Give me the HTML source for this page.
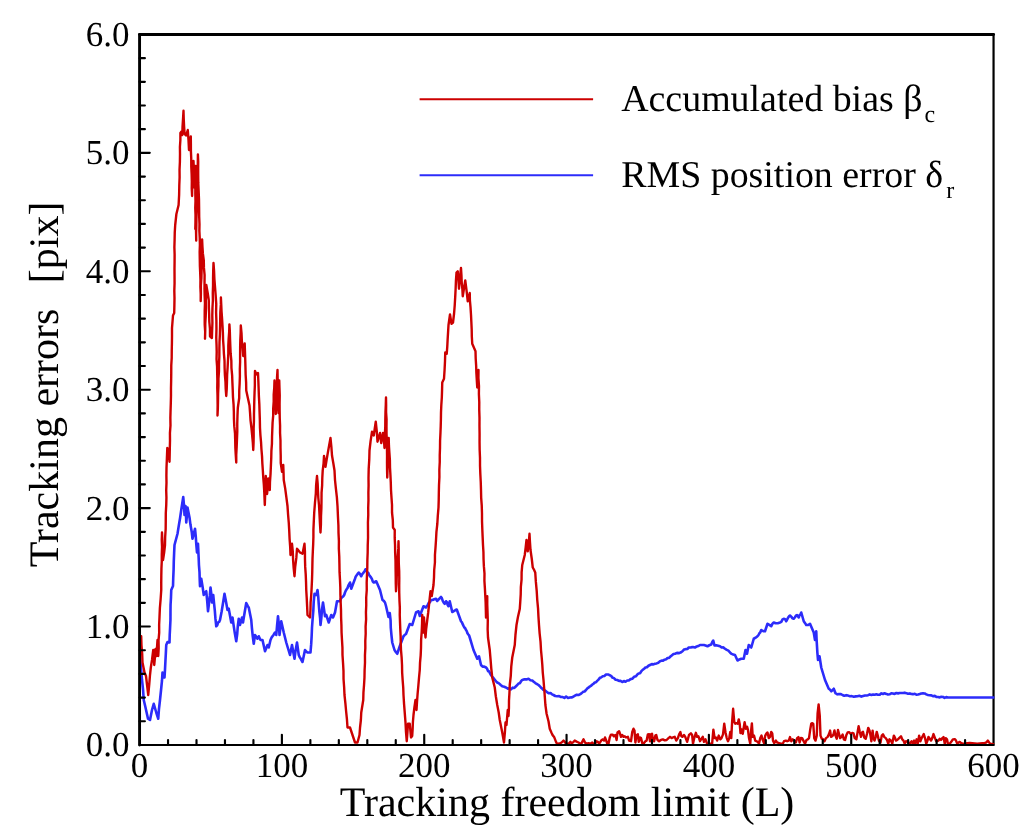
<!DOCTYPE html>
<html><head><meta charset="utf-8"><title>Tracking errors</title>
<style>
html,body{margin:0;padding:0;background:#fff;}
svg{display:block;font-family:"Liberation Serif","DejaVu Serif",serif;fill:#000;text-rendering:geometricPrecision;}
</style></head>
<body>
<svg width="1024" height="833" viewBox="0 0 1024 833">
<rect x="0" y="0" width="1024" height="833" fill="#ffffff"/>
<defs><clipPath id="pc"><rect x="141" y="33" width="853.6" height="710.9"/></clipPath></defs>
<g stroke="#000" stroke-linecap="round">
<line x1="139.57" y1="34.45" x2="139.57" y2="744.95" stroke-width="2.9"/>
<line x1="139.57" y1="34.45" x2="993.55" y2="34.45" stroke-width="2.9"/>
<line x1="993.55" y1="34.45" x2="993.55" y2="744.95" stroke-width="2.2"/>
<line x1="139.57" y1="744.95" x2="993.55" y2="744.95" stroke-width="2.1"/>
</g>
<g clip-path="url(#pc)" fill="none" stroke-linejoin="round" stroke-linecap="round">
<polyline stroke="#2c2cfa" stroke-width="2.6" points="139.70,655.00 141.00,668.00 142.00,680.00 143.08,690.00 143.75,700.00 145.50,707.50 148.00,718.75 150.00,720.00 152.00,710.00 153.75,703.75 156.25,712.50 158.25,718.75 158.93,709.38 160.00,700.00 161.25,688.00 162.02,680.25 162.50,672.50 164.50,677.50 165.01,669.38 165.42,661.25 165.85,653.12 166.25,645.00 167.50,642.00 169.50,642.50 169.72,635.00 170.10,627.50 170.45,620.00 170.48,612.50 170.55,605.00 170.98,597.50 171.25,590.00 173.00,586.00 173.25,577.80 173.61,569.60 173.78,561.40 174.12,553.20 174.50,545.00 177.50,533.75 178.75,525.83 180.08,517.92 181.25,510.00 183.25,497.00 184.05,506.00 184.50,515.00 185.50,506.00 185.98,514.25 186.25,522.50 186.99,515.00 187.50,507.50 189.50,517.50 190.44,524.58 191.70,531.67 192.50,538.75 195.00,528.75 195.78,536.67 196.32,544.58 197.00,552.50 198.00,543.75 198.33,550.83 198.67,557.92 198.94,565.00 199.51,572.08 199.70,579.17 200.00,586.25 201.25,578.75 202.60,586.88 203.75,595.00 204.92,592.84 206.25,591.25 207.21,601.25 208.00,611.25 209.01,603.33 209.85,595.42 210.50,587.50 211.45,595.00 212.00,602.50 213.25,595.00 214.00,602.81 214.82,610.62 215.42,618.44 216.25,626.25 217.19,625.38 218.16,622.45 219.16,621.92 220.00,620.00 221.68,611.25 223.11,602.50 224.50,593.75 226.07,601.88 227.50,610.00 228.75,608.75 231.25,622.50 232.50,617.50 233.63,625.42 234.83,633.33 236.25,641.25 237.24,633.75 237.79,626.25 238.75,618.75 240.00,625.00 242.00,617.50 243.00,622.50 244.59,612.75 246.25,603.00 246.94,604.28 247.82,606.28 248.75,607.50 251.25,620.00 251.90,627.92 252.71,635.83 253.75,643.75 255.00,635.00 256.11,636.48 257.50,638.75 258.75,636.25 260.50,640.00 262.50,640.00 265.00,651.25 267.50,645.00 268.75,647.50 270.50,640.00 271.59,637.58 272.50,636.25 273.66,634.68 275.00,632.50 276.25,635.00 277.07,625.62 278.00,616.25 278.97,625.62 279.50,635.00 281.25,621.25 283.75,632.50 286.25,642.50 290.00,655.00 292.00,645.00 294.50,658.75 295.55,650.62 297.00,642.50 298.75,655.00 299.72,657.14 300.51,658.24 301.42,660.17 302.50,662.00 305.00,650.00 306.33,651.63 307.50,652.50 310.50,652.50 311.18,644.17 311.66,635.83 312.00,627.50 312.61,619.06 313.32,610.62 313.70,602.19 314.50,593.75 316.25,595.00 317.50,590.00 318.26,597.00 318.74,604.00 319.31,611.00 320.10,618.00 320.50,625.00 321.38,617.50 321.95,610.00 323.00,602.50 325.00,616.25 326.25,615.00 328.75,622.50 331.25,615.00 333.00,617.50 335.00,612.50 337.00,601.25 340.00,601.25 340.73,599.08 341.53,597.79 342.38,597.09 343.34,596.19 344.30,594.75 345.00,592.50 345.75,590.74 346.59,589.31 347.54,587.98 348.40,585.44 349.14,584.21 350.00,582.50 351.25,588.75 355.00,578.75 355.79,576.44 356.85,575.00 357.88,573.65 358.75,572.50 359.88,573.87 361.25,576.25 362.02,574.40 362.96,573.39 363.74,572.28 364.56,571.30 365.50,569.25 366.54,571.02 367.28,572.07 368.22,572.73 369.08,574.89 370.00,576.25 370.84,577.16 371.97,579.16 372.82,581.61 373.75,582.50 376.25,581.25 380.00,590.00 382.50,600.00 383.78,600.91 385.00,602.50 386.00,606.00 388.50,617.00 389.75,613.00 390.59,620.38 390.79,627.75 391.45,635.12 392.25,642.50 394.50,650.00 395.98,652.15 397.25,653.75 399.75,646.25 403.50,636.25 404.60,635.05 406.00,634.00 409.75,624.00 412.25,625.00 416.00,612.50 418.50,611.25 419.75,616.00 423.50,606.25 426.00,607.50 426.97,605.98 427.91,604.64 428.87,602.65 429.96,602.20 431.00,600.00 432.54,599.99 434.24,599.28 436.00,598.75 437.25,601.00 438.47,599.61 439.83,598.17 441.00,597.00 441.82,598.08 442.75,600.94 443.85,602.80 444.75,603.75 446.00,601.25 446.89,602.16 447.71,605.03 448.50,606.25 449.75,601.25 452.25,612.00 453.82,611.16 455.21,610.26 456.75,609.50 461.00,621.25 461.92,622.34 462.67,624.13 463.64,626.11 464.46,627.62 465.11,628.11 466.00,630.00 466.75,631.12 467.48,633.29 468.38,634.64 469.10,635.35 469.75,637.50 473.50,650.00 477.25,658.75 479.00,656.25 481.00,665.00 482.62,666.63 484.23,666.53 486.00,667.50 486.87,668.34 488.12,671.28 489.04,671.41 489.94,673.07 491.00,675.00 492.09,676.54 493.06,677.54 494.01,678.82 495.30,680.41 496.09,681.28 497.25,682.50 498.98,683.36 500.70,684.94 502.25,686.25 504.19,686.72 506.00,687.50 507.82,688.62 509.36,688.26 511.00,689.50 512.65,687.66 514.36,687.94 516.00,686.25 517.15,685.02 518.49,683.60 519.81,683.20 521.06,681.21 522.25,680.00 524.47,679.31 526.49,679.42 528.50,678.75 530.45,680.19 532.25,680.50 533.73,681.82 535.35,683.02 537.08,684.09 538.50,685.00 539.60,685.98 541.06,687.70 542.30,688.63 543.36,689.88 544.82,690.38 546.00,691.25 547.62,692.62 548.88,693.25 550.58,693.02 552.07,694.39 553.50,695.00 555.28,695.99 557.14,696.18 559.11,696.11 561.00,697.00 562.77,697.05 564.41,697.95 566.12,696.50 568.00,697.94 569.75,697.50 571.55,697.41 573.25,696.78 574.95,695.63 576.75,694.74 578.50,695.00 579.87,694.41 581.40,693.40 583.09,691.85 584.55,691.46 586.00,690.00 587.36,688.37 588.40,687.73 589.74,686.55 590.85,685.93 592.39,684.58 593.50,683.75 594.76,682.52 595.98,682.26 597.19,680.86 598.50,679.65 599.87,677.86 601.00,677.50 602.76,676.19 604.38,675.97 606.00,674.50 608.50,674.50 609.80,675.33 611.10,675.85 612.25,677.50 613.96,678.16 615.59,679.73 617.25,680.00 619.01,680.87 620.53,680.91 622.25,682.00 623.90,681.07 625.52,681.73 627.25,680.50 628.80,680.43 630.55,679.12 632.25,678.75 634.07,676.82 636.00,676.25 637.29,674.47 638.58,673.42 640.02,673.17 641.18,671.47 642.50,670.00 644.13,668.72 645.38,667.58 646.91,667.29 648.46,665.77 650.00,665.00 651.76,664.16 653.43,664.38 655.00,663.75 656.64,663.43 658.29,662.69 660.00,661.25 661.63,660.60 663.06,660.67 664.57,659.70 666.11,659.35 667.50,658.00 669.08,657.92 670.44,656.50 672.05,655.24 673.47,654.08 675.00,653.75 677.01,652.89 678.74,653.13 680.53,652.61 682.50,651.25 683.95,649.56 685.58,649.15 687.31,649.05 688.75,647.50 690.91,647.40 692.93,647.08 695.00,647.50 696.77,646.49 698.27,646.05 700.00,645.00 701.77,645.02 703.88,644.98 705.52,645.46 707.50,646.25 709.30,645.25 711.25,644.50 712.18,642.25 713.25,640.50 714.50,645.50 716.26,645.33 718.20,645.74 720.00,646.25 721.63,647.51 723.20,647.35 725.00,648.75 726.77,649.89 728.42,650.66 730.00,652.50 731.67,653.89 733.28,654.60 735.00,655.00 737.50,660.50 739.41,659.46 741.25,658.75 743.75,658.75 745.50,650.00 747.00,653.75 748.75,645.00 750.15,646.08 751.25,647.50 753.75,638.75 755.62,637.69 757.50,636.25 758.38,635.23 759.40,633.27 760.32,632.34 761.25,630.00 763.27,631.17 765.00,631.25 767.50,623.75 769.36,624.86 771.25,626.25 772.51,623.65 773.75,622.50 775.72,623.29 777.81,623.20 780.00,622.50 781.30,621.91 782.37,619.69 783.75,618.75 785.09,619.21 786.25,621.25 787.07,619.57 788.03,617.81 789.11,616.28 790.00,615.50 791.39,616.82 792.36,618.30 793.75,618.75 794.76,617.47 795.93,615.67 797.00,615.00 798.75,617.50 799.58,615.13 800.33,614.84 801.25,612.50 803.75,621.25 805.10,623.16 806.25,625.00 808.18,624.98 810.00,623.75 813.75,632.50 815.00,640.00 816.25,631.25 816.53,638.44 816.96,645.62 817.39,652.81 818.00,660.00 819.50,656.25 821.25,667.50 825.00,680.00 828.75,688.75 829.87,689.54 831.25,691.25 832.46,690.20 833.75,688.75 835.50,693.25 837.36,694.33 839.07,694.14 840.88,694.02 842.50,695.00 844.26,695.82 846.29,695.16 848.09,695.61 850.00,696.25 851.85,696.13 853.72,696.73 855.72,696.35 857.50,696.25 859.37,695.72 861.33,696.65 863.04,696.01 865.00,695.50 866.66,695.55 868.06,695.18 869.71,694.41 871.42,694.93 873.00,694.50 874.70,694.80 876.39,694.29 877.86,694.69 879.76,694.70 881.36,693.34 883.00,694.00 884.58,693.29 886.37,693.90 887.91,694.48 889.81,694.31 891.32,693.25 893.00,693.50 894.58,693.94 896.39,692.98 898.12,693.36 899.64,693.03 901.40,693.01 903.00,693.00 904.71,692.65 906.39,693.14 908.00,693.75 909.79,693.42 911.28,694.06 912.97,694.17 914.79,693.77 916.41,694.68 918.00,694.50 919.75,694.00 921.32,693.42 923.00,693.25 924.66,693.44 926.24,694.38 928.00,695.00 929.57,695.28 931.36,695.36 932.90,696.17 934.77,695.89 936.37,696.92 938.00,697.00 939.78,697.37 941.28,696.70 943.10,696.93 944.52,697.93 946.24,697.12 948.00,697.50 993.70,697.50"/>
<polyline stroke="#cc0000" stroke-width="2.4" points="139.70,650.00 141.20,636.30 141.47,645.03 142.18,653.77 142.50,662.50 144.50,672.50 146.00,676.00 147.12,685.50 148.25,695.00 149.19,685.00 150.00,675.00 150.82,667.50 152.00,660.00 153.25,650.00 153.90,657.50 154.25,665.00 154.99,657.00 155.50,649.00 156.50,656.00 156.98,648.00 157.50,640.00 157.76,648.00 158.25,656.00 158.68,648.20 158.54,640.40 159.19,632.60 159.13,624.80 159.50,617.00 159.88,608.00 160.64,599.00 161.25,590.00 161.23,582.81 161.31,575.62 161.44,568.44 161.77,561.25 161.78,554.06 162.03,546.88 161.74,539.69 162.00,532.50 162.43,541.67 162.86,550.83 163.00,560.00 164.15,552.50 165.00,545.00 165.16,537.00 165.67,529.00 165.75,521.00 165.80,513.00 166.25,505.00 166.43,497.60 166.21,490.20 166.49,482.80 166.39,475.40 166.50,468.00 166.90,458.00 167.30,448.00 168.30,449.00 169.50,461.75 169.68,454.67 169.83,447.58 170.00,440.50 169.94,433.00 170.49,425.50 170.37,418.00 170.56,410.50 170.81,403.00 170.99,395.50 170.98,388.00 171.15,380.50 171.25,373.00 171.27,365.50 171.70,358.00 171.75,350.50 171.92,343.00 172.01,335.50 172.00,328.00 173.00,315.50 174.20,313.00 174.38,305.50 174.50,298.00 174.32,290.75 174.56,283.50 174.54,276.25 174.49,269.00 174.58,261.75 174.62,254.50 174.38,247.25 174.60,240.00 174.76,232.50 175.20,225.00 176.40,214.00 178.60,205.00 179.11,195.00 179.30,185.00 179.61,177.25 179.54,169.50 179.90,161.75 180.00,154.00 179.92,147.00 180.38,140.00 180.40,133.00 181.50,131.50 182.30,135.00 182.53,126.92 183.03,118.83 183.50,110.75 183.72,118.50 184.09,126.25 184.60,134.00 186.00,135.50 187.80,130.00 188.49,140.00 189.00,150.00 190.80,136.50 190.88,143.94 190.92,151.38 191.25,158.81 191.28,166.25 191.62,173.69 191.82,181.12 191.73,188.56 192.10,196.00 192.22,189.00 192.51,182.00 193.02,175.00 193.10,168.00 193.50,161.00 193.88,169.83 193.88,178.67 194.25,187.50 194.62,180.33 195.00,173.17 195.50,166.00 195.28,173.00 195.66,180.00 195.35,187.00 195.33,194.00 195.50,201.00 195.26,208.00 195.51,215.00 195.46,222.00 195.30,229.00 195.50,221.00 195.80,213.00 195.80,205.00 195.97,212.12 195.91,219.24 195.91,226.36 196.09,233.48 196.20,240.60 196.14,233.03 196.34,225.45 196.46,217.88 196.83,210.30 196.63,202.72 197.09,195.15 196.92,187.57 197.10,180.00 197.44,171.50 197.82,163.00 197.90,154.50 198.21,161.60 198.17,168.70 198.20,175.80 198.28,182.90 198.60,190.00 198.98,199.00 199.11,208.00 199.20,217.00 199.48,224.00 199.38,231.00 199.74,238.00 199.90,245.00 199.66,252.00 199.78,259.00 199.89,266.00 200.20,273.00 200.45,280.00 200.38,287.00 200.70,294.00 200.70,301.00 200.91,293.30 200.87,285.60 201.40,277.90 201.59,270.20 201.48,262.50 201.89,254.80 202.00,247.10 202.10,239.40 202.43,246.52 202.90,253.64 203.81,260.76 203.93,267.88 204.60,275.00 204.53,282.08 204.51,289.17 204.68,296.25 204.96,303.33 204.71,310.42 204.69,317.50 204.71,324.58 205.17,331.67 205.00,338.75 205.23,331.07 205.29,323.39 205.74,315.71 205.95,308.04 205.80,300.36 206.33,292.68 206.30,285.00 207.61,292.50 208.75,300.00 208.89,307.25 209.17,314.50 209.32,321.75 209.96,329.00 210.00,336.25 211.90,338.00 212.13,330.50 212.41,323.00 212.29,315.50 212.46,308.00 212.87,300.50 212.79,293.00 213.05,285.50 213.07,278.00 213.23,270.50 213.50,263.00 214.07,271.20 214.41,279.40 215.06,287.60 215.70,295.80 216.25,304.00 216.10,312.38 216.38,320.75 216.45,329.12 216.25,337.50 216.53,344.69 216.70,351.88 216.55,359.06 217.06,366.25 217.20,373.44 217.37,380.62 217.26,387.81 217.50,395.00 217.63,405.25 217.50,415.50 217.86,408.12 218.01,400.75 218.11,393.38 218.44,386.00 218.45,378.62 218.98,371.25 219.01,363.88 219.35,356.50 219.37,349.12 219.52,341.75 219.90,334.38 220.08,327.00 220.20,319.62 220.31,312.25 220.83,304.88 220.90,297.50 221.24,304.54 221.55,311.57 222.06,318.61 222.49,325.64 222.89,332.68 223.08,339.71 223.57,346.75 223.92,353.79 224.52,360.82 224.62,367.86 224.90,374.89 225.49,381.93 225.72,388.96 226.25,396.00 226.73,388.84 226.96,381.68 227.14,374.52 227.61,367.36 227.98,360.20 228.34,353.04 228.31,345.88 228.65,338.72 229.20,331.56 229.40,324.40 229.84,331.67 230.05,338.94 230.33,346.21 230.64,353.47 231.34,360.74 231.46,368.01 232.13,375.28 232.41,382.55 232.72,389.82 232.98,397.08 233.57,404.35 233.86,411.62 233.94,418.89 234.28,426.16 235.01,433.43 235.21,440.69 235.36,447.96 235.78,455.23 236.25,462.50 236.25,454.71 236.67,446.93 236.97,439.14 237.28,431.36 237.26,423.57 237.48,415.79 237.80,408.00 239.20,398.00 239.25,390.75 239.65,383.50 239.89,376.25 239.84,369.00 240.12,361.75 240.11,354.50 240.15,347.25 240.31,340.00 240.66,332.75 240.80,325.50 241.51,333.12 241.84,340.75 242.63,348.38 243.20,356.00 244.70,343.50 244.96,351.33 245.23,359.17 245.45,367.00 245.65,374.83 246.12,382.67 246.25,390.50 247.87,398.00 249.50,405.50 250.07,412.92 250.53,420.33 251.42,427.75 252.14,435.17 252.84,442.58 253.25,450.00 253.56,442.82 253.68,435.64 253.64,428.45 253.94,421.27 253.98,414.09 254.16,406.91 254.32,399.73 254.56,392.55 254.86,385.36 254.84,378.18 255.00,371.00 256.30,374.50 258.00,373.00 258.35,380.86 258.63,388.71 258.91,396.57 259.34,404.43 259.58,412.29 259.85,420.14 260.00,428.00 260.41,435.08 261.04,442.17 261.44,449.25 262.04,456.33 262.35,463.42 262.84,470.50 263.27,477.58 263.85,484.67 264.25,491.75 264.80,505.00 265.05,497.75 265.38,490.50 265.63,483.25 265.80,476.00 266.32,485.00 267.10,494.00 267.87,486.25 268.30,478.50 269.80,490.00 269.98,482.00 270.54,474.00 270.89,466.00 271.25,458.00 271.40,450.95 271.93,443.91 272.04,436.86 272.31,429.82 272.58,422.77 273.18,415.73 273.20,408.68 273.70,401.64 273.70,394.59 274.26,387.55 274.50,380.50 274.78,388.88 275.25,397.25 275.49,405.62 275.75,414.00 276.25,406.67 276.52,399.33 276.67,392.00 276.93,384.67 277.05,377.33 277.50,370.00 277.61,377.17 277.72,384.33 278.10,391.50 277.99,398.67 278.33,405.83 278.50,413.00 278.55,404.88 278.92,396.75 278.94,388.62 279.25,380.50 279.48,388.00 279.73,395.50 279.59,403.00 279.63,410.50 279.75,418.00 280.07,425.50 280.06,433.00 280.48,440.50 280.51,448.00 280.71,455.50 280.75,463.00 282.00,471.75 283.25,465.00 283.54,472.50 283.75,480.00 285.22,488.67 286.38,497.33 287.50,506.00 288.05,514.25 288.75,522.50 289.22,530.62 289.58,538.75 290.18,546.88 290.50,555.00 292.00,543.75 292.81,551.88 293.09,560.00 293.68,568.12 294.50,576.25 295.17,567.08 296.32,557.92 297.00,548.75 298.22,550.10 300.00,552.50 302.50,553.75 304.50,543.75 304.94,551.46 304.98,559.17 305.20,566.88 305.73,574.58 306.04,582.29 306.25,590.00 306.74,598.33 307.14,606.67 307.50,615.00 310.00,617.50 310.46,610.00 310.61,602.50 311.24,595.00 311.65,587.50 312.00,580.00 312.23,572.81 312.37,565.62 312.52,558.44 312.84,551.25 313.19,544.06 313.41,536.88 313.42,529.69 313.75,522.50 314.22,512.50 315.00,502.50 315.82,493.67 316.14,484.83 317.00,476.00 317.64,483.25 317.94,490.50 318.30,497.75 319.00,505.00 319.48,514.17 319.95,523.33 320.50,532.50 320.92,524.38 321.01,516.25 321.38,508.12 321.50,500.00 321.56,492.67 322.14,485.33 322.30,478.00 322.70,470.67 323.57,463.33 324.00,456.00 325.50,466.75 326.66,459.56 327.89,452.38 329.18,445.19 330.50,438.00 331.37,446.75 332.00,455.50 333.29,463.00 334.50,470.50 335.00,480.00 335.90,488.67 336.88,497.33 337.50,506.00 338.00,517.50 338.40,525.31 338.52,533.12 338.90,540.94 338.85,548.75 339.26,556.56 339.43,564.38 339.55,572.19 340.00,580.00 340.32,587.50 340.41,595.00 340.67,602.50 341.00,610.00 341.10,617.50 341.42,625.00 341.56,632.50 341.99,640.00 342.44,647.50 342.50,655.00 343.04,663.00 343.49,671.00 343.54,679.00 344.13,687.00 344.50,695.00 345.37,703.12 346.11,711.25 346.94,719.38 347.50,727.50 350.00,727.50 352.50,735.00 355.00,742.50 357.50,742.50 359.50,735.00 360.04,727.50 360.88,720.00 361.25,712.50 363.25,700.00 363.45,692.50 364.03,685.00 364.48,677.50 364.61,670.00 365.00,662.50 364.96,655.31 365.33,648.12 365.30,640.94 365.68,633.75 365.60,626.56 366.09,619.38 365.95,612.19 366.25,605.00 366.21,597.50 366.75,590.00 366.68,582.50 366.99,575.00 367.30,567.50 367.38,560.00 367.67,552.50 367.75,545.00 368.04,537.50 368.00,530.00 367.94,522.57 368.26,515.14 368.21,507.71 368.45,500.29 368.39,492.86 368.58,485.43 368.50,478.00 368.70,468.83 369.25,459.67 369.50,450.50 370.58,441.12 372.00,431.75 373.75,435.50 375.75,421.75 376.80,431.75 377.50,441.75 380.00,433.00 381.25,443.00 383.00,433.00 383.96,440.50 384.50,448.00 384.75,440.79 384.94,433.57 385.28,426.36 385.32,419.14 385.49,411.93 385.79,404.71 386.00,397.50 386.14,404.77 386.08,412.05 386.56,419.32 386.48,426.59 386.53,433.86 386.86,441.14 386.97,448.41 387.06,455.68 387.01,462.95 387.08,470.23 387.25,477.50 387.53,469.60 387.81,461.70 388.06,453.80 388.20,445.90 388.70,438.00 388.92,445.43 389.40,452.86 389.90,460.29 390.02,467.71 390.43,475.14 390.79,482.57 391.00,490.00 391.49,497.50 392.01,505.00 392.02,512.50 392.81,520.00 393.00,527.50 394.75,530.00 394.70,537.66 395.05,545.31 395.17,552.97 395.52,560.62 395.58,568.28 395.71,575.94 395.78,583.59 396.00,591.25 396.56,584.11 396.74,576.96 397.15,569.82 397.33,562.68 397.78,555.54 398.30,548.39 398.50,541.25 398.70,548.62 398.70,556.00 398.78,563.38 399.18,570.75 399.28,578.12 399.20,585.50 399.24,592.88 399.46,600.25 399.84,607.62 399.75,615.00 400.00,622.00 400.27,629.00 400.61,636.00 400.74,643.00 401.00,650.00 401.63,657.50 402.02,665.00 402.15,672.50 402.64,680.00 403.23,687.50 403.50,695.00 404.07,704.17 404.79,713.33 405.50,722.50 405.99,731.88 406.75,741.25 407.42,732.50 408.00,723.75 409.75,723.75 411.00,737.50 412.20,736.00 412.65,729.00 412.91,722.00 413.50,715.00 414.40,707.50 415.50,700.00 416.50,710.00 417.00,702.00 417.59,694.00 418.32,686.00 418.99,678.00 419.75,670.00 420.03,662.67 420.67,655.33 421.00,648.00 421.12,639.75 421.71,631.50 422.07,623.25 422.25,615.00 422.79,623.75 423.50,632.50 423.68,625.00 424.00,617.50 424.59,627.50 425.50,637.50 426.19,628.75 427.25,620.00 428.21,612.50 429.00,605.00 430.50,591.25 431.75,596.00 433.50,585.00 434.00,577.50 434.20,570.00 434.92,562.50 434.95,555.00 435.50,547.50 436.00,540.00 436.44,531.88 437.33,523.75 437.81,515.62 438.50,507.50 438.72,499.92 438.84,492.33 439.02,484.75 439.41,477.17 439.36,469.58 439.75,462.00 439.75,454.93 440.01,447.86 440.08,440.79 440.42,433.71 440.70,426.64 440.90,419.57 441.00,412.50 441.32,405.00 441.82,397.50 442.07,390.00 442.25,382.50 444.00,378.75 444.57,370.00 445.00,361.25 445.25,352.50 446.75,353.75 447.27,346.56 447.64,339.38 448.08,332.19 448.50,325.00 450.00,314.50 451.50,323.75 453.00,322.50 454.05,313.75 454.75,305.00 455.21,296.88 455.63,288.75 455.94,280.62 456.50,272.50 457.75,271.25 458.40,280.00 459.00,288.75 459.90,278.38 461.00,268.00 461.43,275.06 461.70,282.12 462.38,289.19 462.75,296.25 464.02,288.38 465.25,280.50 466.60,290.88 467.75,301.25 469.75,293.00 469.90,300.25 470.54,307.50 471.00,314.75 471.35,322.00 471.69,329.25 471.82,336.50 472.25,343.75 475.50,351.25 475.70,358.50 476.15,365.75 476.38,373.00 476.80,380.25 477.25,387.50 478.01,378.75 478.50,370.00 478.43,378.00 478.98,386.00 478.90,394.00 479.27,402.00 479.25,410.00 479.50,418.00 479.47,426.00 479.58,434.00 479.55,442.00 479.67,450.00 480.00,458.00 480.03,466.00 480.33,474.00 480.75,482.00 481.00,490.00 481.18,497.86 481.75,505.71 481.99,513.57 482.03,521.43 482.31,529.29 482.65,537.14 483.00,545.00 483.44,552.14 483.56,559.29 483.90,566.43 484.50,573.57 484.41,580.71 484.87,587.86 485.25,595.00 485.64,602.50 485.84,610.00 486.00,617.50 486.43,610.42 486.91,603.33 487.25,596.25 487.26,604.50 487.54,612.75 487.79,621.00 487.64,629.25 488.00,637.50 489.75,650.00 490.53,659.17 491.27,668.33 492.25,677.50 494.75,687.50 495.82,696.25 497.25,705.00 498.71,712.50 499.75,720.00 502.25,732.50 504.00,742.50 504.88,732.50 505.50,722.50 506.50,725.00 507.11,717.50 507.75,710.00 508.50,716.00 508.93,708.25 508.99,700.50 509.46,692.75 509.75,685.00 510.77,675.83 511.26,666.67 512.25,657.50 514.75,645.00 515.45,635.00 516.50,625.00 517.94,617.00 519.75,609.00 520.28,601.67 520.71,594.33 520.85,587.00 521.56,579.67 521.62,572.33 522.25,565.00 524.75,555.00 525.68,547.50 526.50,540.00 527.75,551.25 528.81,542.50 529.50,533.75 529.95,541.88 530.50,550.00 531.76,558.75 532.75,567.50 534.24,570.19 535.25,572.50 535.85,581.67 536.70,590.83 537.25,600.00 538.04,608.33 538.45,616.67 539.00,625.00 539.63,633.33 540.53,641.67 541.00,650.00 541.71,657.50 542.32,665.00 542.76,672.50 543.50,680.00 544.50,692.50 545.40,705.00 546.60,713.75 548.50,721.25 549.75,728.75 551.60,733.00 552.62,735.12 554.10,736.90 556.00,741.90 557.00,743.75 558.50,743.73 560.38,743.10 561.62,742.48 563.50,740.60 564.75,741.85 566.00,743.73 568.50,743.73 570.38,741.85 571.62,743.10 572.88,742.48 574.75,740.60 576.62,741.60 578.50,742.48 580.38,743.73 581.62,743.10 583.50,739.35 585.00,742.48 586.62,743.73 588.50,743.10 590.38,743.73 592.25,742.48 593.50,743.73 595.00,743.73 596.62,741.23 597.88,741.85 599.12,743.73 600.38,741.85 601.62,739.98 602.88,739.35 604.12,740.60 605.00,737.48 606.00,739.98 607.25,743.73 608.50,743.73 609.75,737.48 611.00,734.60 612.50,734.60 613.75,736.23 615.38,734.98 616.62,739.98 617.50,732.48 619.12,731.23 620.00,733.73 621.00,736.85 622.25,734.98 623.50,736.85 624.75,736.23 626.00,737.48 627.88,736.85 629.12,740.60 631.00,741.23 632.25,731.85 633.50,728.73 634.50,730.60 635.38,742.48 636.62,734.98 637.88,734.35 638.75,741.85 640.00,737.48 641.00,738.10 642.25,743.10 643.50,743.73 645.38,741.23 646.62,740.60 647.88,734.35 649.12,734.10 650.00,741.23 651.00,734.35 652.00,733.73 652.88,739.35 654.12,741.23 655.38,735.60 656.25,734.98 657.50,739.98 659.12,741.23 661.00,739.98 662.88,739.35 664.75,740.35 666.62,739.98 668.50,738.10 670.00,736.85 671.62,738.10 672.88,737.48 674.75,736.85 676.25,740.60 677.88,738.10 679.12,734.35 680.38,732.10 681.38,736.23 682.50,736.85 683.50,735.35 684.00,734.98 685.25,736.85 687.12,741.85 689.00,734.98 690.88,733.35 692.12,734.98 693.00,743.73 694.25,738.10 695.88,732.85 697.12,736.85 698.38,736.23 700.00,741.23 701.50,738.73 702.75,736.85 704.00,741.85 705.50,739.35 707.12,743.73 708.38,743.73 710.50,743.73 712.12,743.73 713.38,729.60 714.62,738.10 715.88,737.48 717.12,740.60 718.75,735.60 720.25,739.35 721.50,738.10 723.00,734.35 724.25,723.73 725.50,732.48 726.75,738.10 728.00,741.23 729.25,738.10 730.25,731.85 731.25,738.10 732.12,721.85 733.12,708.73 734.25,721.85 735.25,723.73 736.50,723.10 737.75,723.73 738.75,719.35 739.75,724.35 740.50,733.10 741.50,729.35 742.75,733.73 743.75,727.48 744.62,722.10 745.88,728.73 747.12,726.85 748.00,729.98 749.00,738.10 750.25,743.73 751.25,729.35 751.88,723.35 752.75,736.85 754.00,735.60 755.25,740.60 756.50,741.23 757.75,741.85 759.00,743.73 760.25,738.10 761.50,735.60 762.75,739.98 764.00,743.10 765.25,735.60 766.50,733.35 767.50,732.48 768.75,738.10 770.00,736.85 771.25,731.85 772.25,733.35 773.00,740.60 774.25,743.10 775.88,740.60 777.12,742.48 779.00,743.10 780.88,743.73 782.75,743.73 784.00,741.23 785.88,740.60 787.12,741.23 788.75,740.60 790.00,737.10 791.25,741.23 792.75,739.35 794.00,740.60 795.88,742.48 797.12,738.10 798.38,737.10 799.62,742.48 800.88,737.85 802.12,738.10 803.38,740.60 805.00,743.73 806.50,739.98 807.75,739.35 809.00,738.10 810.25,729.35 811.25,723.73 812.00,723.10 813.25,723.73 814.25,738.10 815.50,740.60 816.75,735.60 817.62,713.10 818.62,704.35 819.75,715.60 820.50,735.60 821.75,738.73 823.25,739.35 824.50,741.23 826.00,738.10 827.62,736.85 828.88,734.35 830.12,730.60 831.00,736.85 832.25,736.23 833.50,734.35 834.50,730.35 835.50,735.60 836.75,738.73 838.00,729.98 839.00,733.73 840.12,738.10 841.38,736.85 842.62,734.60 843.88,739.35 845.12,739.98 846.38,734.98 847.62,732.48 849.25,732.10 850.75,734.10 852.25,732.85 853.50,733.35 854.75,738.10 856.38,739.35 857.62,731.85 858.62,726.23 859.75,731.85 861.00,736.85 862.00,732.48 863.00,731.85 864.25,737.48 865.75,738.73 867.00,733.73 868.25,727.85 869.50,730.60 870.50,735.60 871.38,741.23 872.62,730.60 873.50,738.10 874.50,740.60 875.75,736.85 876.75,731.85 877.75,735.60 878.88,740.60 880.50,742.48 881.75,735.60 883.00,734.35 884.25,736.85 885.75,738.10 887.00,739.98 888.25,743.73 889.50,739.35 891.00,740.60 892.25,743.73 893.88,735.60 895.12,738.10 896.00,740.60 897.25,739.98 899.12,738.10 901.00,736.23 902.25,739.35 903.50,740.60 904.75,743.73 906.00,741.23 907.88,741.85 909.75,743.73 911.62,741.23 912.88,743.73 914.12,740.60 915.38,743.73 916.62,739.35 917.88,743.10 919.12,735.60 920.38,741.23 921.62,738.10 922.62,736.23 923.75,734.10 925.00,738.10 926.25,743.73 927.50,740.60 928.50,736.85 929.75,738.73 931.00,740.60 932.25,738.10 933.50,734.10 935.00,738.10 936.25,741.23 938.50,740.60 939.75,738.73 941.00,739.98 942.25,738.10 943.50,737.10 944.75,743.73 945.75,738.10 947.00,739.35 947.88,743.73 949.75,743.73 951.62,741.23 952.88,739.35 954.75,739.10 956.00,740.60 957.25,743.73 958.50,742.48 959.75,741.85 961.25,743.10 962.88,743.73 964.75,743.73 967.25,743.10 969.75,742.85 972.25,743.10 974.75,743.35 977.25,743.73 979.75,743.35 982.25,743.10 984.75,742.85 986.25,742.48 987.88,740.60 989.12,742.48 990.38,743.73 992.25,743.85 993.70,744.30"/>
</g>
<g stroke="#000" stroke-width="2.15" stroke-linecap="round"><line x1="168.04" y1="744.95" x2="168.04" y2="739.95"/><line x1="196.50" y1="744.95" x2="196.50" y2="739.95"/><line x1="224.97" y1="744.95" x2="224.97" y2="739.95"/><line x1="253.43" y1="744.95" x2="253.43" y2="739.95"/><line x1="281.90" y1="744.95" x2="281.90" y2="734.75"/><line x1="310.37" y1="744.95" x2="310.37" y2="739.95"/><line x1="338.83" y1="744.95" x2="338.83" y2="739.95"/><line x1="367.30" y1="744.95" x2="367.30" y2="739.95"/><line x1="395.76" y1="744.95" x2="395.76" y2="739.95"/><line x1="424.23" y1="744.95" x2="424.23" y2="734.75"/><line x1="452.70" y1="744.95" x2="452.70" y2="739.95"/><line x1="481.16" y1="744.95" x2="481.16" y2="739.95"/><line x1="509.63" y1="744.95" x2="509.63" y2="739.95"/><line x1="538.09" y1="744.95" x2="538.09" y2="739.95"/><line x1="566.56" y1="744.95" x2="566.56" y2="734.75"/><line x1="595.03" y1="744.95" x2="595.03" y2="739.95"/><line x1="623.49" y1="744.95" x2="623.49" y2="739.95"/><line x1="651.96" y1="744.95" x2="651.96" y2="739.95"/><line x1="680.42" y1="744.95" x2="680.42" y2="739.95"/><line x1="708.89" y1="744.95" x2="708.89" y2="734.75"/><line x1="737.36" y1="744.95" x2="737.36" y2="739.95"/><line x1="765.82" y1="744.95" x2="765.82" y2="739.95"/><line x1="794.29" y1="744.95" x2="794.29" y2="739.95"/><line x1="822.75" y1="744.95" x2="822.75" y2="739.95"/><line x1="851.22" y1="744.95" x2="851.22" y2="734.75"/><line x1="879.69" y1="744.95" x2="879.69" y2="739.95"/><line x1="908.15" y1="744.95" x2="908.15" y2="739.95"/><line x1="936.62" y1="744.95" x2="936.62" y2="739.95"/><line x1="965.08" y1="744.95" x2="965.08" y2="739.95"/><line x1="139.57" y1="721.27" x2="144.87" y2="721.27"/><line x1="139.57" y1="697.58" x2="144.87" y2="697.58"/><line x1="139.57" y1="673.90" x2="144.87" y2="673.90"/><line x1="139.57" y1="650.22" x2="144.87" y2="650.22"/><line x1="139.57" y1="626.53" x2="149.77" y2="626.53"/><line x1="139.57" y1="602.85" x2="144.87" y2="602.85"/><line x1="139.57" y1="579.17" x2="144.87" y2="579.17"/><line x1="139.57" y1="555.48" x2="144.87" y2="555.48"/><line x1="139.57" y1="531.80" x2="144.87" y2="531.80"/><line x1="139.57" y1="508.12" x2="149.77" y2="508.12"/><line x1="139.57" y1="484.43" x2="144.87" y2="484.43"/><line x1="139.57" y1="460.75" x2="144.87" y2="460.75"/><line x1="139.57" y1="437.07" x2="144.87" y2="437.07"/><line x1="139.57" y1="413.38" x2="144.87" y2="413.38"/><line x1="139.57" y1="389.70" x2="149.77" y2="389.70"/><line x1="139.57" y1="366.02" x2="144.87" y2="366.02"/><line x1="139.57" y1="342.33" x2="144.87" y2="342.33"/><line x1="139.57" y1="318.65" x2="144.87" y2="318.65"/><line x1="139.57" y1="294.97" x2="144.87" y2="294.97"/><line x1="139.57" y1="271.28" x2="149.77" y2="271.28"/><line x1="139.57" y1="247.60" x2="144.87" y2="247.60"/><line x1="139.57" y1="223.92" x2="144.87" y2="223.92"/><line x1="139.57" y1="200.23" x2="144.87" y2="200.23"/><line x1="139.57" y1="176.55" x2="144.87" y2="176.55"/><line x1="139.57" y1="152.87" x2="149.77" y2="152.87"/><line x1="139.57" y1="129.18" x2="144.87" y2="129.18"/><line x1="139.57" y1="105.50" x2="144.87" y2="105.50"/><line x1="139.57" y1="81.82" x2="144.87" y2="81.82"/><line x1="139.57" y1="58.13" x2="144.87" y2="58.13"/></g>
<line x1="419.6" y1="99.3" x2="593.1" y2="99.3" stroke="#cc0000" stroke-width="2.1"/>
<line x1="419.6" y1="175.2" x2="593.1" y2="175.2" stroke="#2c2cfa" stroke-width="2.1"/>
<g font-size="37.9px">
<text x="621.2" y="111">Accumulated bias β<tspan font-size="24px" dy="11" dx="2">c</tspan></text>
<text x="621.2" y="186.6">RMS position error δ<tspan font-size="24px" dy="11" dx="3">r</tspan></text>
</g>
<g font-size="35px"><text x="139.57" y="776.8" text-anchor="middle">0</text><text x="281.90" y="776.8" text-anchor="middle">100</text><text x="424.23" y="776.8" text-anchor="middle">200</text><text x="566.56" y="776.8" text-anchor="middle">300</text><text x="708.89" y="776.8" text-anchor="middle">400</text><text x="851.22" y="776.8" text-anchor="middle">500</text><text x="993.55" y="776.8" text-anchor="middle">600</text><text x="129.4" y="756.45" text-anchor="end">0.0</text><text x="129.4" y="638.03" text-anchor="end">1.0</text><text x="129.4" y="519.62" text-anchor="end">2.0</text><text x="129.4" y="401.20" text-anchor="end">3.0</text><text x="129.4" y="282.78" text-anchor="end">4.0</text><text x="129.4" y="164.37" text-anchor="end">5.0</text><text x="129.4" y="45.95" text-anchor="end">6.0</text></g>
<text x="339.8" y="815.7" font-size="42px">Tracking freedom limit (L)</text>
<text transform="translate(58,567.2) rotate(-90)" font-size="42px">Tracking errors <tspan dx="14.9">[pix]</tspan></text>
</svg>
</body></html>
